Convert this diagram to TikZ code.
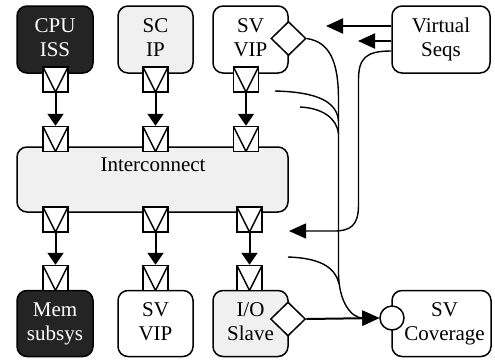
\documentclass[tikz,border=0pt]{standalone}
\usepackage{fontspec}
\setmainfont{Liberation Serif}
\newfontfamily\blockfont{Liberation Serif}
\usetikzlibrary{arrows.meta,shapes.geometric}
\definecolor{darkfill}{HTML}{242424}
\definecolor{lightfill}{HTML}{F0F0F0}
\begin{document}
\begin{tikzpicture}[x=1pt,y=-1pt,
  blk/.style={draw, line width=1.5pt, rounded corners=10pt, inner sep=0pt,
    align=center, font=\blockfont\fontsize{21}{24}\selectfont},
  lbl/.style={inner sep=0pt, font=\blockfont\fontsize{21}{24}\selectfont},
  port/.style={draw, fill=white, line width=1.5pt, minimum size=25pt, inner sep=0pt,
    path picture={\draw[line width=1.5pt] (path picture bounding box.north west)
      -- (path picture bounding box.south) -- (path picture bounding box.north east);}},
  shorttip/.style={-{Triangle[length=12pt,width=16pt]}},
  longtip/.style={-{Triangle[length=17pt,width=15pt]}},
  link/.style={line width=2pt, shorttip},
  drive/.style={line width=2pt, longtip},
  wire/.style={line width=1.4pt},
  iface/.style={diamond, draw, fill=white, line width=1.5pt, minimum width=35pt,
    minimum height=34pt, inner sep=0pt},
  sink/.style={circle, draw, fill=white, line width=1.5pt, minimum size=24pt, inner sep=0pt}
]
\useasboundingbox (0,0) rectangle (495,360);

% top row of blocks
\node[blk, fill=darkfill, text=white, minimum width=76pt, minimum height=67pt] (cpu) at (55,39.5) {\strut CPU\\\strut ISS};
\node[blk, fill=lightfill, minimum width=75pt, minimum height=67pt] (sc) at (155.5,39.5) {\strut SC\\\strut IP};
\node[blk, fill=white, minimum width=75pt, minimum height=67pt] (vipA) at (250.5,39.5) {\strut SV\\\strut VIP};
\node[blk, fill=white, minimum width=98pt, minimum height=67pt] (vseq) at (441,39.5) {\strut Virtual\\\strut Seqs};

% interconnect
\node[blk, fill=lightfill, minimum width=271pt, minimum height=65pt] (ic) at (152.5,179.5) {};
\node[lbl] (icT) at (153,167) {\strut Interconnect};

% bottom row of blocks
\node[blk, fill=darkfill, text=white, minimum width=76pt, minimum height=66pt] (mem) at (55,323.5) {\strut Mem\\\strut subsys};
\node[blk, fill=white, minimum width=75pt, minimum height=66pt] (vipB) at (155.5,323.5) {\strut SV\\\strut VIP};
\node[blk, fill=lightfill, minimum width=75pt, minimum height=66pt] (io) at (250.5,323.5) {\strut I/O\\\strut Slave};
\node[blk, fill=white, minimum width=99pt, minimum height=66pt] (cov) at (441.5,323.5) {\strut\hspace*{6pt}SV\\\strut\hspace*{6pt}Coverage};

% ports
\node[port] (p1a) at (55.5,79.5) {};
\node[port] (p2a) at (155.5,79.5) {};
\node[port] (p3a) at (246,79.5) {};
\node[port] (p1b) at (55.5,139) {};
\node[port] (p2b) at (155.5,139) {};
\node[port] (p3b) at (246,139) {};
\node[port] (p1c) at (55.5,219.5) {};
\node[port] (p2c) at (155.5,219.5) {};
\node[port] (p3c) at (249.5,219.5) {};
\node[port] (p1d) at (55.5,278) {};
\node[port] (p2d) at (155.5,278) {};
\node[port] (p3d) at (249.5,278) {};

\draw[link] (p1a.south) -- (p1b.north);
\draw[link] (p2a.south) -- (p2b.north);
\draw[link] (p3a.south) -- (p3b.north);
\draw[link] (p1c.south) -- (p1d.north);
\draw[link] (p2c.south) -- (p2d.north);
\draw[link] (p3c.south) -- (p3d.north);

% analysis interfaces
\node[iface] (vipD) at (288.5,38.5) {};
\node[iface] (ioD) at (288,319) {};
\node[sink] (covC) at (392,318) {};

% free ends of the monitor taps and sequence drivers
\coordinate (tapA) at (275,91);
\coordinate (tapB) at (300,107);
\coordinate (tapC) at (288,257);
\coordinate (seqA) at (326,26);
\coordinate (seqB) at (358,41);
\coordinate (seqC) at (289,231);

% monitor taps into the coverage collector
\draw[wire, longtip] (vipD.east) .. controls (330,42) and (338.5,62) .. (338.5,100)
  -- (338.5,272) .. controls (338.5,303) and (352,318) .. (covC.west);
\draw[wire] (tapA) .. controls (318,92) and (337,102) .. (338.5,121);
\draw[wire] (tapB) .. controls (322,108) and (337,118) .. (338.5,134);
\draw[wire] (tapC) .. controls (318,258) and (335,266) .. (339,284);
\draw[drive] (ioD.east) -- (covC.west);

% virtual sequences driving the VIPs
\draw[drive] ([yshift=13.5pt]vseq.west) -- (seqA);
\draw[drive] ([yshift=-1.5pt]vseq.west) -- (seqB);
\draw[wire, longtip] ([yshift=-11.5pt]vseq.west) .. controls (366,51) and (358.5,58) .. (358.5,80)
  -- (358.5,205) .. controls (358.5,226) and (350,231) .. (334,231) -- (seqC);
\end{tikzpicture}
\end{document}
